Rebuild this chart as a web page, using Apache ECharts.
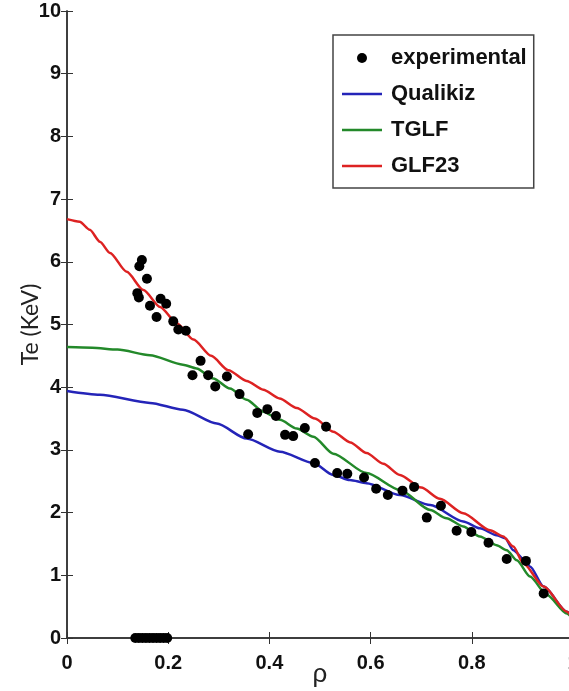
<!DOCTYPE html>
<html><head><meta charset="utf-8">
<script src="https://cdn.jsdelivr.net/npm/echarts@6/dist/echarts.min.js"></script>
<style>html,body{margin:0;padding:0;background:#fff}#c{width:569px;height:691px}</style>
</head><body><div id="c"></div>
<script>
var expRho = [0.148,0.143,0.158,0.139,0.142,0.164,0.177,0.185,0.196,0.210,0.220,0.235,
  0.264,0.248,0.279,0.293,0.316,0.341,0.376,0.396,0.413,0.358,0.470,0.431,0.447,
  0.512,0.490,0.534,0.554,0.587,0.611,0.634,0.663,0.686,0.711,0.739,
  0.770,0.799,0.833,0.869,0.907,0.942,
  0.135,0.142,0.149,0.156,0.163,0.170,0.177,0.184,0.191,0.198];
var expTe = [6.03,5.93,5.73,5.50,5.43,5.30,5.12,5.41,5.33,5.05,4.92,4.90,
  4.42,4.19,4.19,4.01,4.17,3.89,3.59,3.65,3.54,3.25,3.35,3.24,3.22,
  3.37,2.79,2.63,2.62,2.56,2.38,2.28,2.35,2.41,1.92,2.11,
  1.71,1.69,1.52,1.26,1.23,0.71,
  0,0,0,0,0,0,0,0,0,0];

var qualRho = [0,0.065,0.164,0.229,0.296,0.355,0.421,0.487,0.526,0.559,0.592,0.658,0.718,0.783,0.816,0.849,0.866,0.882,0.905,0.915,0.942,0.988,1.0];
var qualTe  = [3.94,3.88,3.75,3.64,3.42,3.18,2.97,2.79,2.60,2.52,2.47,2.28,2.12,1.86,1.75,1.64,1.59,1.40,1.24,1.14,0.82,0.42,0.30];

var tglfRho = [0,0.05,0.1,0.164,0.229,0.256,0.289,0.322,0.355,0.388,0.421,0.454,0.487,0.526,0.592,0.658,0.718,0.75,0.783,0.816,0.849,0.869,0.889,0.915,0.948,0.988,1.0];
var tglfTe  = [4.64,4.63,4.60,4.51,4.36,4.30,4.14,3.98,3.80,3.61,3.48,3.34,3.21,2.94,2.63,2.36,2.04,1.91,1.78,1.62,1.48,1.40,1.24,0.98,0.69,0.39,0.30];

var glfRho = [0,0.025,0.045,0.065,0.085,0.118,0.151,0.184,0.217,0.25,0.285,0.319,0.355,0.388,0.42,0.454,0.49,0.526,0.56,0.592,0.625,0.658,0.7,0.737,0.783,0.836,0.862,0.882,0.902,0.942,0.988,1.0];
var glfTe  = [6.68,6.64,6.51,6.32,6.14,5.84,5.55,5.28,5.02,4.76,4.50,4.27,4.10,3.96,3.82,3.67,3.50,3.29,3.12,2.95,2.78,2.60,2.40,2.22,1.99,1.72,1.62,1.46,1.19,0.82,0.42,0.30];

function zip(a,b){return a.map(function(v,i){return [v,b[i]];});}

var axisCol = '#333';
var labelFont = {fontFamily:'Liberation Sans', fontWeight:'bold', fontSize:20, color:'#111'};
var lineIcon = 'path://M0,0H16V1H0Z';
var chart = echarts.init(document.getElementById('c'));
chart.setOption({
  animation:false,
  grid:{left:67, top:11, width:506, height:627, outerBoundsMode:'none', containLabel:false},
  legend:{
    orient:'vertical', left:333, top:35,
    padding:[12,7,11,9],
    itemWidth:40, itemHeight:10, itemGap:14,
    borderColor:'#444', borderWidth:1.5, backgroundColor:'#fff',
    textStyle:{fontFamily:'Liberation Sans', fontWeight:'bold', fontSize:22, color:'#111', padding:[0,0,0,4]},
    data:[{name:'experimental', icon:'circle'},
          {name:'Qualikiz', icon:lineIcon},
          {name:'TGLF', icon:lineIcon},
          {name:'GLF23', icon:lineIcon}]
  },
  xAxis:[{
    type:'value', min:0, max:1, interval:0.2, position:'bottom',
    name:'ρ', nameLocation:'middle', nameGap:24, nameMoveOverlap:false,
    nameTextStyle:{fontFamily:'Liberation Sans', fontSize:26, color:'#222'},
    axisLine:{lineStyle:{color:axisCol, width:1.5}},
    axisTick:{inside:true, length:6, lineStyle:{color:axisCol}},
    axisLabel:Object.assign({margin:15, formatter:function(v){return String(+v.toFixed(1));}}, labelFont),
    splitLine:{show:false}
  },{
    type:'value', min:0, max:1, interval:0.2, position:'top',
    axisLine:{lineStyle:{color:axisCol, width:1.5}},
    axisTick:{inside:true, length:6, lineStyle:{color:axisCol}},
    axisLabel:{show:false}, splitLine:{show:false}
  }],
  yAxis:[{
    type:'value', min:0, max:10, interval:1, position:'left',
    name:'Te (KeV)', nameLocation:'middle', nameGap:25, nameRotate:90, nameMoveOverlap:false,
    nameTextStyle:{fontFamily:'Lato', fontSize:23, color:'#222'},
    axisLine:{show:true, lineStyle:{color:axisCol, width:1.5}},
    axisTick:{show:true, inside:true, length:6, lineStyle:{color:axisCol}},
    axisLabel:Object.assign({margin:6}, labelFont),
    splitLine:{show:false}
  },{
    type:'value', min:0, max:10, interval:1, position:'right',
    axisLine:{show:true, lineStyle:{color:axisCol, width:1.5}},
    axisTick:{show:true, inside:true, length:6, lineStyle:{color:axisCol}},
    axisLabel:{show:false}, splitLine:{show:false}
  }],
  series:[
    {name:'experimental', type:'scatter', data:zip(expRho,expTe), symbolSize:10,
     itemStyle:{color:'#000', opacity:1}, z:5, clip:false},
    {name:'Qualikiz', type:'line', data:zip(qualRho,qualTe), symbol:'none', smooth:0.25, smoothMonotone:'x',
     lineStyle:{color:'#2424b8', width:2.5}, itemStyle:{color:'#2424b8'}, z:3},
    {name:'TGLF', type:'line', data:zip(tglfRho,tglfTe), symbol:'none', smooth:0.25, smoothMonotone:'x',
     lineStyle:{color:'#23892a', width:2.5}, itemStyle:{color:'#23892a'}, z:3},
    {name:'GLF23', type:'line', data:zip(glfRho,glfTe), symbol:'none', smooth:0.25, smoothMonotone:'x',
     lineStyle:{color:'#dd2222', width:2.5}, itemStyle:{color:'#dd2222'}, z:4}
  ]
});
</script></body></html>
